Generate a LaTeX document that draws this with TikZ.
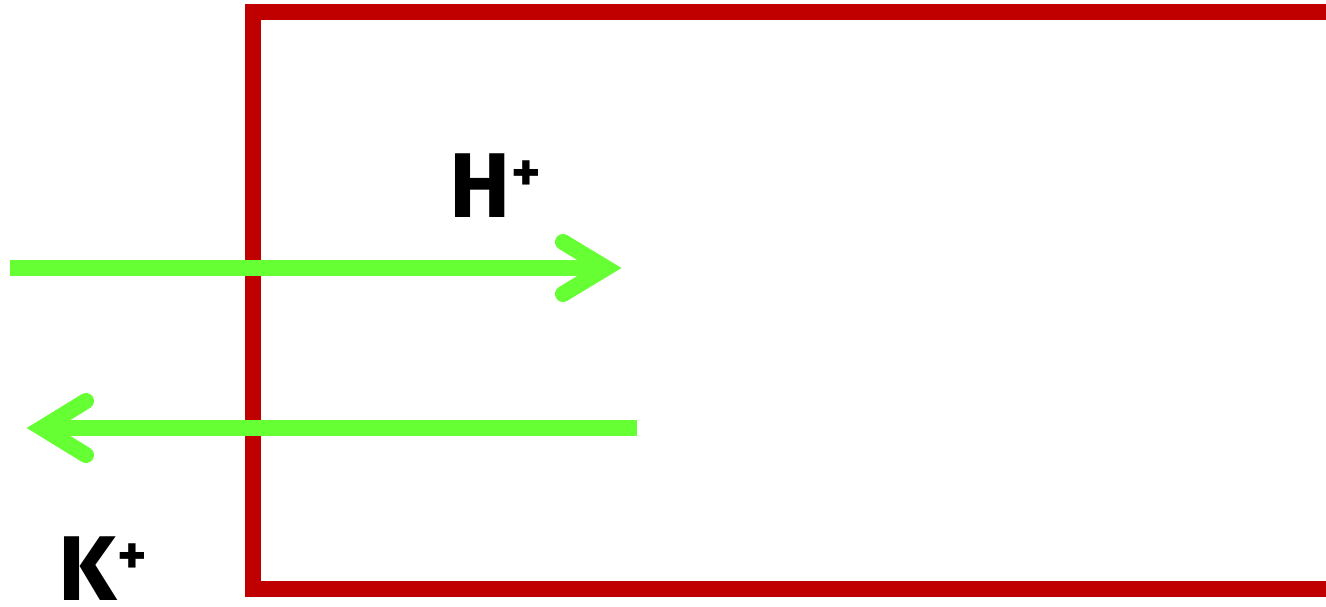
\documentclass[tikz,border=0pt]{standalone}
\usepackage{fontspec}
\setmainfont{Fira Sans}
\definecolor{memred}{HTML}{C00000}
\definecolor{iongreen}{HTML}{66FF33}
\tikzset{
  x=1pt, y=-1pt,
  membrane/.style={draw=memred, line width=16pt, line join=miter},
  shaft/.style={draw=iongreen, line width=16pt, line cap=butt},
  barb/.style={draw=iongreen, line width=16pt, line cap=round, line join=miter, miter limit=10},
  ion/.style={inner sep=0pt, font=\fontsize{92}{92}\selectfont\bfseries},
}
\newcommand{\ionplus}{\kern1pt\raisebox{26pt}{\fontsize{56}{56}\selectfont\bfseries +}}
\begin{document}
\begin{tikzpicture}
\useasboundingbox (0,0) rectangle (1326,606);
\fill[white] (0,0) rectangle (1326,606);
\begin{scope}
\clip (0,0) rectangle (1326,606);
\draw[membrane] (1340,12) -- (253,12) -- (253,589) -- (1340,589);
\end{scope}
% H+ arrow (inward)
\coordinate (hstart) at (10,268);
\coordinate (htip) at (606,268);
\coordinate (hup) at (563,242);
\coordinate (hdn) at (563,294);
\draw[shaft] (hstart) -- (htip);
\draw[barb] (hup) -- (htip) -- (hdn);
% K+ arrow (outward)
\coordinate (kstart) at (637,428);
\coordinate (ktip) at (42,428);
\coordinate (kup) at (86,401);
\coordinate (kdn) at (86,455);
\draw[shaft] (kstart) -- (ktip);
\draw[barb] (kup) -- (ktip) -- (kdn);
% labels
\node[ion, anchor=base west] (hion) at (449,217) {H\ionplus};
\node[ion, anchor=base west] (kion) at (58,600) {K\ionplus};
\end{tikzpicture}
\end{document}
